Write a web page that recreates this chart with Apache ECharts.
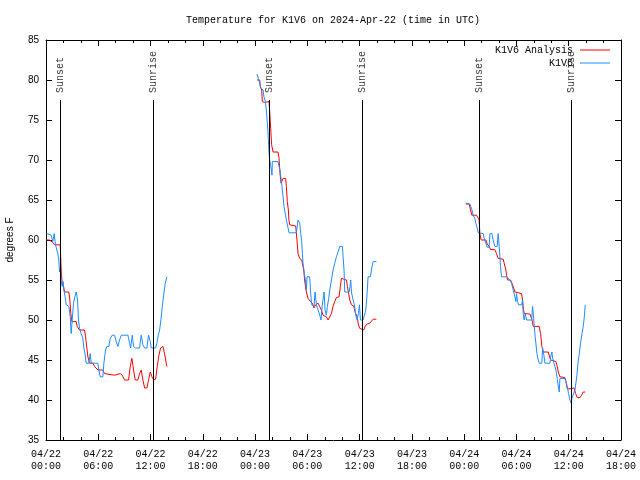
<!DOCTYPE html>
<html>
<head>
<meta charset="utf-8">
<script src="https://cdn.jsdelivr.net/npm/echarts@6/dist/echarts.min.js"></script>
<style>html,body{margin:0;padding:0;background:#fff}#c{width:640px;height:480px}</style>
</head>
<body>
<div id="c"></div>
<script>
// Time values are hours since 2024-04-22 00:00 UTC; temperatures in degrees F
const titleText = 'Temperature for K1V6 on 2024-Apr-22 (time in UTC)';
const seriesNames = ['K1V6 Analysis', 'K1V6'];
const xMin = 0, xMax = 66, xStep = 6;
const yMin = 35, yMax = 85, yStep = 5;

const anaDay1 = [[0.02,60.0],[0.40,60.0],[0.59,59.9],[0.78,59.7],[0.98,59.4],[1.63,59.4],[1.67,58.3],[1.74,56.25],[1.86,54.6],[2.01,54.2],[2.13,53.5],[2.62,53.5],[2.74,52.5],[2.85,50.8],[2.97,49.8],[3.47,49.8],[3.58,49.2],[3.85,48.75],[4.42,48.75],[4.54,47.9],[4.69,46.5],[4.81,45.4],[5.00,44.6],[5.38,44.6],[5.57,44.2],[5.76,44.2],[5.95,43.75],[6.53,43.75],[6.72,43.3],[6.91,43.1],[7.87,43.1],[8.06,43.25],[8.52,43.3],[8.75,43.1],[9.02,42.5],[9.48,42.5],[9.67,44.2],[9.86,45.2],[10.05,43.75],[10.24,42.5],[10.55,42.5],[10.74,43.3],[10.93,43.75],[11.12,42.5],[11.32,41.5],[11.58,41.5],[11.77,42.5],[11.97,43.5],[12.16,42.9],[12.35,42.5],[12.58,42.6],[12.77,44.2],[12.96,45.6],[13.15,46.5],[13.42,46.7],[13.61,45.8],[13.80,44.6],[13.88,44.2]];
const anaDay2 = [[24.22,80.0],[24.53,80.0],[24.60,79.2],[24.76,78.75],[24.83,77.3],[25.10,77.2],[25.22,77.3],[25.60,77.3],[25.68,76.0],[25.79,73.95],[25.90,71.9],[26.06,71.0],[26.63,71.0],[26.75,70.2],[26.86,68.3],[26.98,67.1],[27.21,67.7],[27.51,67.7],[27.59,66.7],[27.70,64.8],[27.82,63.75],[27.88,62.5],[27.97,61.9],[28.66,61.75],[28.81,60.0],[28.93,58.3],[29.12,57.7],[29.35,57.5],[29.58,56.25],[29.70,54.8],[29.89,53.5],[30.08,52.7],[30.35,52.3],[30.58,52.1],[30.77,51.5],[30.96,51.9],[31.23,52.1],[31.42,52.1],[31.61,51.25],[31.80,50.6],[31.99,50.8],[32.18,50.4],[32.38,50.0],[32.57,50.0],[32.76,50.8],[32.95,51.7],[33.14,52.3],[33.33,52.8],[33.64,52.9],[33.79,54.2],[33.91,55.2],[34.10,55.0],[34.48,55.0],[34.60,54.2],[34.71,53.5],[34.87,52.5],[35.06,51.9],[35.32,51.75],[35.48,51.0],[35.71,50.4],[35.86,49.4],[36.01,48.95],[36.21,48.75],[36.47,48.75],[36.63,49.2],[36.86,49.5],[37.16,49.6],[37.35,49.8],[37.55,50.1],[37.93,50.1]];
const anaDay3 = [[48.19,64.5],[48.57,64.5],[48.73,63.75],[48.88,63.1],[49.42,63.1],[49.61,62.9],[49.72,62.5],[49.80,60.8],[49.95,60.0],[50.49,60.0],[50.64,59.5],[50.87,59.2],[51.03,58.8],[51.52,58.8],[51.71,58.3],[51.90,57.7],[52.10,57.6],[52.48,57.6],[52.59,57.1],[52.79,56.25],[52.86,55.6],[52.98,55.0],[53.32,55.0],[53.48,54.6],[53.63,54.2],[53.82,53.5],[54.01,53.3],[54.59,53.3],[54.70,52.5],[54.78,51.5],[54.89,50.8],[55.01,50.75],[55.54,50.75],[55.74,50.2],[55.93,49.2],[56.61,49.2],[56.77,48.3],[56.92,46.7],[57.07,46.0],[57.65,46.0],[57.76,45.6],[57.92,45.0],[58.03,44.8],[58.53,44.8],[58.68,44.2],[58.80,43.5],[58.99,42.9],[59.56,42.8],[59.68,42.3],[59.83,41.4],[60.14,41.4],[60.33,41.5],[60.63,41.5],[60.79,40.8],[60.98,40.3],[61.29,40.3],[61.48,40.6],[61.67,41.0],[61.90,41.0]];

const obsDay1 = [[0.05,60.83],[0.59,60.6],[0.78,59.8],[0.94,60.8],[1.09,59.4],[1.24,59.2],[1.36,58.3],[1.47,57.5],[1.55,56.0],[1.67,56.7],[1.74,54.8],[1.86,54.2],[1.97,54.8],[2.05,53.75],[2.20,52.9],[2.32,51.9],[2.62,51.7],[2.78,50.4],[2.89,48.3],[3.01,50.0],[3.16,52.1],[3.31,52.9],[3.47,53.5],[3.62,52.5],[3.73,50.0],[3.85,48.95],[4.04,48.3],[4.23,47.7],[4.35,46.5],[4.50,45.6],[4.61,44.6],[4.92,44.6],[5.07,45.8],[5.19,44.6],[5.95,44.6],[6.07,43.75],[6.22,42.9],[6.53,42.9],[6.64,44.6],[6.84,46.25],[6.99,46.7],[7.22,46.7],[7.37,47.7],[7.60,48.1],[7.87,48.1],[8.06,47.3],[8.25,46.7],[8.44,47.5],[8.64,48.1],[9.40,48.1],[9.59,47.1],[9.71,46.5],[9.90,48.1],[10.05,46.7],[10.28,46.5],[10.74,46.5],[10.93,48.1],[11.12,46.9],[11.32,46.5],[11.58,46.5],[11.77,48.1],[11.97,47.3],[12.08,46.5],[12.58,46.5],[12.73,47.1],[12.89,48.1],[13.04,48.75],[13.19,50.0],[13.35,51.7],[13.50,53.1],[13.69,54.6],[13.88,55.4]];
const obsDay2 = [[24.22,80.75],[24.37,80.2],[24.53,79.6],[24.64,79.0],[24.76,78.75],[24.91,78.75],[25.02,77.9],[25.18,77.3],[25.29,76.25],[25.41,74.6],[25.52,72.7],[25.60,70.8],[25.68,70.0],[25.79,69.8],[25.87,68.75],[25.94,68.1],[25.98,69.8],[26.63,69.8],[26.75,69.2],[26.86,68.75],[26.98,67.7],[27.09,66.7],[27.21,65.4],[27.32,64.2],[27.59,62.5],[27.90,60.9],[28.74,60.9],[28.93,62.5],[29.12,62.1],[29.24,60.8],[29.35,59.8],[29.50,57.1],[29.66,55.8],[29.77,55.0],[29.89,53.75],[29.96,55.4],[30.27,55.4],[30.38,53.3],[30.50,51.9],[30.65,51.9],[30.77,51.7],[30.88,53.5],[31.04,51.9],[31.23,51.7],[31.42,50.6],[31.57,50.0],[31.69,51.7],[31.80,51.9],[31.92,53.5],[32.03,51.25],[32.18,50.6],[32.30,51.7],[32.45,52.7],[32.57,53.75],[32.76,55.0],[32.95,56.25],[33.14,57.1],[33.33,57.9],[33.52,58.5],[33.72,59.2],[34.02,59.2],[34.10,57.9],[34.21,56.25],[34.29,53.5],[34.79,53.5],[34.90,54.2],[34.98,55.0],[35.06,53.5],[35.25,52.5],[35.40,51.9],[35.55,50.6],[35.71,50.0],[35.86,50.8],[35.98,51.9],[36.09,50.0],[36.40,50.0],[36.55,50.6],[36.70,51.25],[36.82,52.7],[36.97,55.4],[37.24,55.4],[37.39,56.5],[37.55,57.3],[37.93,57.3]];
const obsDay3 = [[48.19,64.6],[48.65,64.5],[48.84,63.96],[49.03,63.1],[49.22,62.7],[49.34,62.1],[49.49,61.5],[49.61,60.9],[49.72,60.8],[50.18,60.8],[50.34,60.0],[50.49,59.6],[50.64,59.1],[50.87,59.1],[50.95,60.8],[51.18,60.8],[51.33,60.0],[51.52,59.2],[51.79,59.2],[51.90,60.8],[52.02,59.2],[52.10,57.9],[52.17,56.7],[52.29,55.4],[52.86,55.4],[53.05,55.2],[53.25,55.0],[53.44,54.6],[53.63,53.75],[53.82,52.9],[53.93,52.3],[54.01,53.3],[54.13,52.3],[54.24,51.9],[54.59,51.9],[54.70,52.5],[54.78,50.8],[54.89,50.0],[55.01,50.8],[55.16,50.0],[55.74,50.0],[55.85,51.7],[55.93,50.8],[56.04,49.2],[56.15,47.9],[56.23,47.1],[56.35,45.8],[56.50,45.0],[56.61,44.6],[56.92,44.6],[57.00,46.5],[57.15,45.6],[57.27,44.6],[57.84,44.6],[57.96,45.6],[58.07,46.0],[58.15,45.2],[58.30,44.6],[58.53,43.75],[58.68,42.7],[58.83,41.5],[58.91,41.0],[58.99,42.7],[59.56,42.7],[59.68,42.3],[59.83,41.7],[59.98,40.8],[60.14,40.0],[60.29,39.6],[60.37,40.2],[60.52,40.4],[60.71,41.25],[60.82,42.1],[60.94,43.1],[61.06,44.6],[61.21,45.8],[61.36,47.1],[61.52,48.3],[61.67,49.2],[61.79,50.4],[61.90,51.9]];

const sunNames = ['Sunset','Sunrise','Sunset','Sunrise','Sunset','Sunrise'];
const sunHours = [1.68, 12.32, 25.66, 36.33, 49.73, 60.30];
const sunLineTop = 77.5;

function joinDays(days) {
  const out = [];
  days.forEach((d, i) => {
    if (i > 0) out.push([d[0][0] - 0.01, '-']);
    d.forEach(p => out.push(p));
  });
  return out;
}

const mono = 'Liberation Mono';
const sans = 'Liberation Sans';
function pad(n){ return (n < 10 ? '0' : '') + n; }
function hourLabel(v) {
  const day = 22 + Math.floor(v / 24);
  const hr = Math.round(v % 24);
  return '04/' + pad(day) + '\n' + pad(hr) + ':00';
}
const lineIcon = 'path://M0,0 L30,0 L30,1 L0,1 Z';

const chart = echarts.init(document.getElementById('c'), null, {renderer: 'canvas'});
chart.setOption({
  animation: false,
  backgroundColor: '#fff',
  title: {
    text: titleText, left: 328, top: 10, textAlign: 'center',
    textStyle: {fontFamily: mono, fontSize: 10, fontWeight: 'normal', color: '#000'}
  },
  legend: {
    data: [{name: seriesNames[0], icon: lineIcon}, {name: seriesNames[1], icon: lineIcon}],
    orient: 'vertical', right: 25, top: 40, align: 'right',
    itemWidth: 30, itemHeight: 10, itemGap: 3,
    textStyle: {fontFamily: mono, fontSize: 10, color: '#000', padding: [0, 2, 0, 0]}
  },
  grid: {left: 46, right: 19, top: 40, bottom: 40, containLabel: false, outerBoundsMode: 'none'},
  xAxis: [{
    type: 'value', min: xMin, max: xMax, interval: xStep, position: 'bottom',
    axisLine: {onZero: false, lineStyle: {color: '#000'}},
    axisTick: {inside: true, length: 6, lineStyle: {color: '#000'}},
    minorTick: {show: true, splitNumber: 3, length: 3, lineStyle: {color: '#000'}},
    splitLine: {show: false},
    axisLabel: {formatter: hourLabel, fontFamily: mono, fontSize: 10, color: '#000', lineHeight: 12, margin: 8, showMinLabel: true, showMaxLabel: true}
  }, {
    type: 'value', min: xMin, max: xMax, interval: xStep, position: 'top',
    axisLine: {onZero: false, lineStyle: {color: '#000'}},
    axisTick: {inside: true, length: 6, lineStyle: {color: '#000'}},
    minorTick: {show: true, splitNumber: 3, length: 3, lineStyle: {color: '#000'}},
    splitLine: {show: false}, axisLabel: {show: false}
  }],
  yAxis: [{
    type: 'value', min: yMin, max: yMax, interval: yStep, position: 'left',
    name: 'degrees F', nameLocation: 'middle', nameGap: 31,
    nameTextStyle: {fontFamily: sans, fontSize: 10, color: '#000'},
    axisLine: {show: true, onZero: false, lineStyle: {color: '#000'}},
    axisTick: {show: true, inside: true, length: 6, lineStyle: {color: '#000'}},
    splitLine: {show: false},
    axisLabel: {fontFamily: sans, fontSize: 10, color: '#000', margin: 7}
  }, {
    type: 'value', min: yMin, max: yMax, interval: yStep, position: 'right',
    axisLine: {show: true, onZero: false, lineStyle: {color: '#000'}},
    axisTick: {show: true, inside: true, length: 6, lineStyle: {color: '#000'}},
    splitLine: {show: false}, axisLabel: {show: false}
  }],
  series: [
    {
      name: seriesNames[0], type: 'line', data: joinDays([anaDay1, anaDay2, anaDay3]),
      showSymbol: false, symbol: 'none', connectNulls: false,
      lineStyle: {color: '#ff0000', width: 1}, itemStyle: {color: '#ff0000'}, z: 3
    },
    {
      name: seriesNames[1], type: 'line', data: joinDays([obsDay1, obsDay2, obsDay3]),
      showSymbol: false, symbol: 'none', connectNulls: false,
      lineStyle: {color: '#1e8cff', width: 1}, itemStyle: {color: '#1e8cff'}, z: 4
    },
    {
      name: 'sun', type: 'scatter', symbolSize: 0, z: 5, silent: true,
      data: sunHours.map((h, i) => [h, sunLineTop, sunNames[i]]),
      label: {
        show: true, formatter: p => p.data[2], position: 'top', distance: 7,
        rotate: 90, align: 'left', verticalAlign: 'middle',
        fontFamily: mono, fontSize: 10, color: '#000'
      },
      markLine: {
        silent: true, symbol: ['none', 'none'], label: {show: false},
        lineStyle: {color: '#000', type: 'solid', width: 1},
        data: sunHours.map(h => [{coord: [h, yMin]}, {coord: [h, sunLineTop]}])
      }
    }
  ]
});
</script>
</body>
</html>
